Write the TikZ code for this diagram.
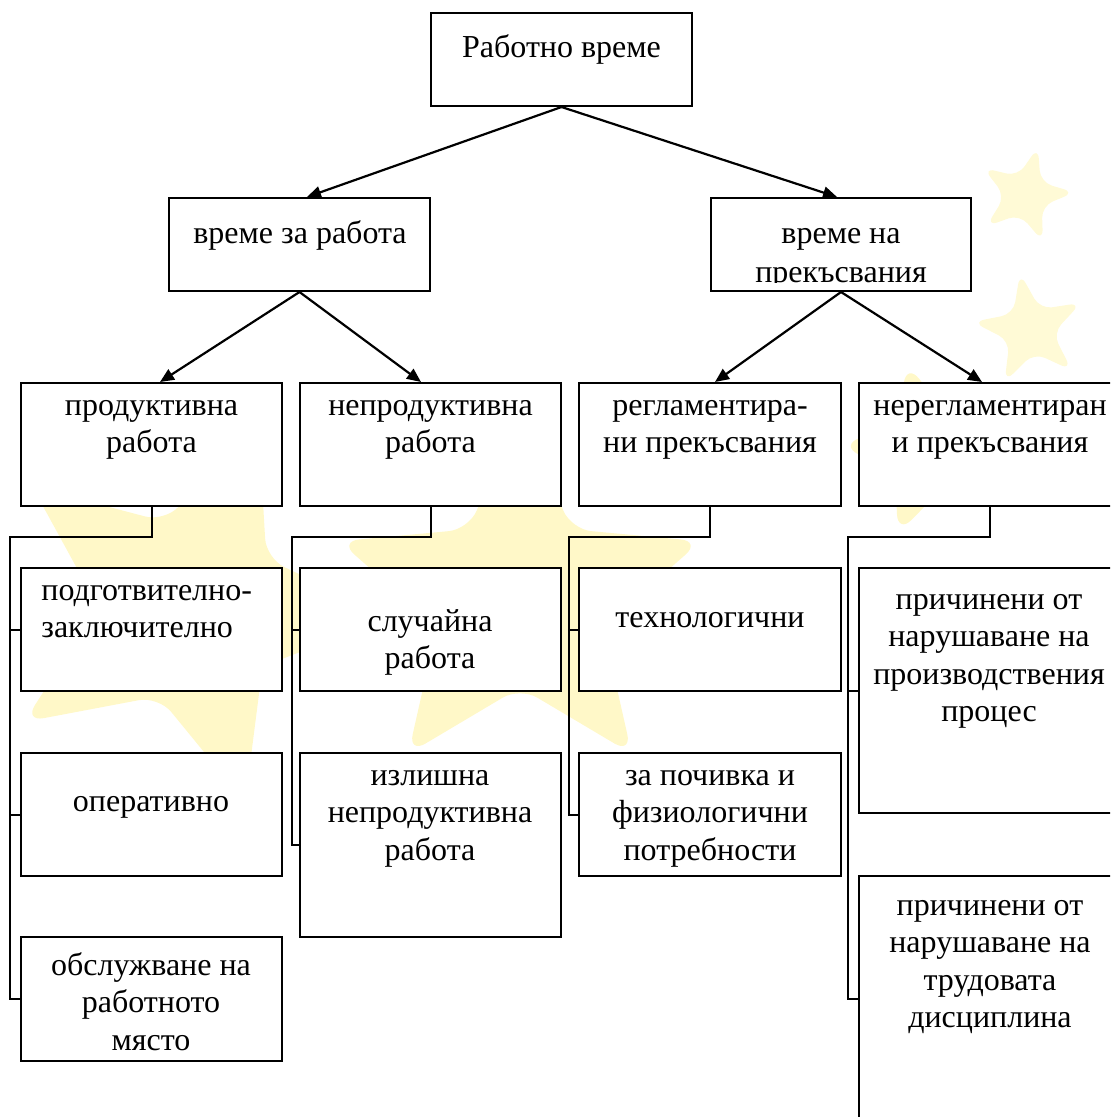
\documentclass[tikz,border=0pt]{standalone}
\usepackage{fontspec}
\setmainfont{Liberation Serif}
\usetikzlibrary{arrows.meta,fit,calc}
\definecolor{wmark}{RGB}{255,248,200}
\definecolor{wmarkl}{RGB}{255,250,214}
\tikzset{
  box/.style={draw=black,line width=1pt,fill=white,inner sep=0pt},
  txt/.style={font=\fontsize{16}{18.75}\selectfont,align=center,inner sep=0pt,anchor=north,execute at begin node=\strut},
  ltxt/.style={txt,align=left,anchor=north west},
  arr/.style={line width=1.1pt,-{Triangle[length=7pt,width=6pt]}},
  elbow/.style={line width=1pt},
  wstar/.pic={\fill[wmark,rounded corners=10pt] (-90:1) \foreach \k in {1,...,9}{ -- ({-90+36*\k}:{ifthenelse(mod(\k,2)==1,0.46,1)}) } -- cycle;},
  wstarl/.pic={\fill[wmarkl,rounded corners=6pt] (-90:1) \foreach \k in {1,...,9}{ -- ({-90+36*\k}:{ifthenelse(mod(\k,2)==1,0.40,1)}) } -- cycle;}
}
\begin{document}
\begin{tikzpicture}[x=0.5pt,y=-0.5pt]
\useasboundingbox (0,0) rectangle (1110,1117);
\begin{scope}
\clip (0,0) rectangle (1110,1117);
% faint watermark stars
\pic[scale=200,rotate=-20] at (190,610) {wstar};
\pic[scale=190] at (520,600) {wstar};
\pic[scale=90,rotate=15] at (930,450) {wstar};
\pic[scale=50,rotate=-15] at (1025,195) {wstarl};
\pic[scale=58,rotate=10] at (1030,330) {wstarl};

% boxes
\node[box,fit={(431,13)(692,106)}] (top) {};
\node[box,fit={(169,198)(430,291)}] (l2l) {};
\node[box,fit={(711,198)(971,291)}] (l2r) {};
\node[box,fit={(21,383)(282,506)}] (A) {};
\node[box,fit={(300,383)(561,506)}] (B) {};
\node[box,fit={(579,383)(841,506)}] (C) {};
\node[box,fit={(859,383)(1120,506)}] (D) {};
\node[box,fit={(21,568)(282,691)}] (A1) {};
\node[box,fit={(21,753)(282,876)}] (A2) {};
\node[box,fit={(21,937)(282,1061)}] (A3) {};
\node[box,fit={(300,568)(561,691)}] (B1) {};
\node[box,fit={(300,753)(561,937)}] (B2) {};
\node[box,fit={(579,568)(841,691)}] (C1) {};
\node[box,fit={(579,753)(841,876)}] (C2) {};
\node[box,fit={(859,568)(1120,813)}] (D1) {};
\node[box,fit={(859,876)(1120,1122)}] (D2) {};

% texts
\node[txt] (ttop) at (561.5,31) {Работно време};
\node[txt] (tl2l) at (300,217) {време за работа};
\begin{scope}
\clip (711,198) rectangle (971,283);
\node[txt] (tl2r) at (841,228) {време на\\[1pt]прекъсвания};
\end{scope}
\node[txt] (tA) at (151.5,400) {продуктивна\\работа};
\node[txt] (tB) at (430.5,400) {непродуктивна\\работа};
\node[txt] (tC) at (710,400) {регламентира-\\ни прекъсвания};
\node[txt] (tD) at (990,400) {нерегламентиран\\и прекъсвания};
\node[ltxt] (tA1) at (41,585) {подготвително-\\заключително};
\node[txt] (tA2) at (151,785) {оперативно};
\node[txt] (tA3) at (151,952) {обслужване на\\работното\\място};
\node[txt] (tB1) at (430,609) {случайна\\работа};
\node[txt] (tB2) at (430,770) {излишна\\непродуктивна\\работа};
\node[txt] (tC1) at (710,600.5) {технологични};
\node[txt] (tC2) at (710,770) {за почивка и\\физиологични\\потребности};
\node[txt] (tD1) at (989,594) {причинени от\\нарушаване на\\производствения\\процес};
\node[txt] (tD2) at (990,900) {причинени от\\нарушаване на\\трудовата\\дисциплина};

% arrows
\draw[arr] (top.south) -- ($(l2l.north)+(7.5,0)$);
\draw[arr] (top.south) -- ($(l2r.north)+(-4,0)$);
\draw[arr] (l2l.south) -- ($(A.north)+(8.5,0)$);
\draw[arr] (l2l.south) -- ($(B.north)+(-9.5,0)$);
\draw[arr] (l2r.south) -- ($(C.north)+(5,0)$);
\draw[arr] (l2r.south) -- ($(D.north)+(-7.5,0)$);

% elbow connectors
\coordinate (ak) at (10,537);
\coordinate (bk) at (292,537);
\coordinate (ck) at (569,537);
\coordinate (dk) at (848,537);
\draw[elbow] (A.south) |- (ak) |- (A3.west);
\draw[elbow] (ak) |- (A1.west);
\draw[elbow] (ak) |- (A2.west);
\draw[elbow] (B.south) |- (bk) |- (B2.west);
\draw[elbow] (bk) |- (B1.west);
\draw[elbow] (C.south) |- (ck) |- (C2.west);
\draw[elbow] (ck) |- (C1.west);
\draw[elbow] (D.south) |- (dk) |- (D2.west);
\draw[elbow] (dk) |- (D1.west);
\end{scope}
\end{tikzpicture}
\end{document}
